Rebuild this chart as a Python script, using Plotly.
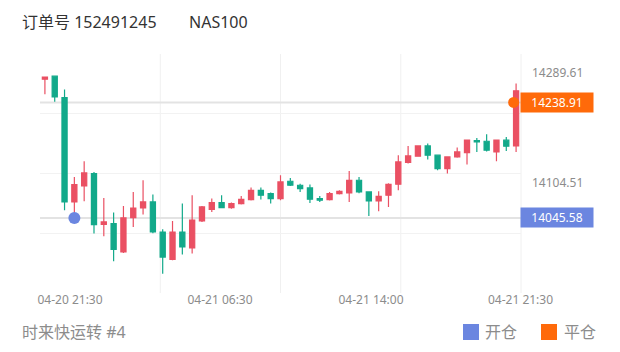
import plotly.graph_objects as go

# ---------------- data ----------------
opens = [14277.9, 14282.9, 14247.2, 14072.4, 14099.2, 14120.0, 14035.0, 14036.2, 13988.6, 14046.2,
         14062.3, 14072.4, 14022.1, 13976.4, 14022.1, 13995.3, 14040.5, 14060.1, 14071.4, 14063.0,
         14069.7, 14076.4, 14091.9, 14086.4, 14078.0, 14107.0, 14100.3, 14095.8, 14078.0, 14076.4,
         14086.4, 14087.4, 14108.7, 14089.1, 14074.0, 14083.6, 14102.0, 14138.4, 14148.9, 14166.2,
         14150.6, 14128.3, 14147.7, 14155.1, 14175.2, 14174.0, 14156.1, 14175.7, 14166.2]
highs = [14282.0, 14283.5, 14260.6, 14114.3, 14140.5, 14122.6, 14079.1, 14054.6, 14065.7, 14089.1,
         14108.7, 14084.8, 14026.6, 14040.5, 14069.7, 14083.6, 14065.6, 14078.0, 14083.6, 14071.3,
         14082.4, 14096.5, 14096.5, 14088.0, 14117.1, 14112.6, 14103.0, 14101.5, 14082.4, 14089.1,
         14091.9, 14124.3, 14114.3, 14089.5, 14090.3, 14103.5, 14150.6, 14166.2, 14167.0, 14170.2,
         14151.5, 14148.5, 14163.5, 14177.0, 14179.6, 14185.8, 14176.5, 14181.2, 14270.7]
lows = [14252.8, 14239.9, 14058.5, 14040.0, 14073.5, 14019.4, 14014.9, 13973.0, 13987.0, 14030.5,
        14051.3, 14020.0, 13952.4, 13975.0, 13984.3, 13986.0, 14039.0, 14055.6, 14062.0, 14061.0,
        14068.0, 14075.0, 14076.4, 14069.7, 14075.2, 14099.0, 14089.1, 14070.7, 14072.4, 14075.0,
        14085.0, 14072.4, 14087.0, 14048.9, 14056.8, 14064.0, 14092.0, 14136.7, 14148.0, 14143.4,
        14125.5, 14119.9, 14146.5, 14135.0, 14156.1, 14157.0, 14140.5, 14157.8, 14156.1]
closes = [14281.2, 14248.3, 14072.4, 14101.5, 14120.9, 14034.6, 14038.9, 13993.1, 14045.6, 14062.3,
          14072.4, 14022.1, 13980.2, 14022.1, 13997.0, 14041.8, 14064.0, 14071.4, 14063.0, 14069.7,
          14076.9, 14091.9, 14083.6, 14078.0, 14105.9, 14100.3, 14094.8, 14076.9, 14075.2, 14086.4,
          14090.3, 14108.7, 14089.1, 14074.0, 14081.9, 14102.0, 14139.4, 14149.4, 14166.2, 14150.6,
          14128.3, 14147.7, 14156.1, 14175.7, 14172.9, 14159.0, 14175.7, 14165.7, 14258.3]
x_idx = list(range(len(opens)))

x_tick_pos = [2.56, 17.84, 33.22, 48.45]
x_tick_labels = ["04-20 21:30", "04-21 06:30", "04-21 14:00", "04-21 21:30"]

y_grid_vals = [14020, 14120, 14220]
y_range = [13920, 14320]
y_side_labels = [14289.61, 14104.51]

open_price = 14045.58
close_price = 14238.91
open_idx = 3
close_idx = 48

title_left = "订单号 152491245"
title_right = "NAS100"
footer_text = "时来快运转 #4"
legend_labels = ["开仓", "平仓"]

# ---------------- style ----------------
RED = "#ea5063"
GREEN = "#12a98a"
BLUE = "#6b86e0"
ORANGE = "#ff6a0a"
FONT = "Noto Sans, Noto Sans CJK SC, sans-serif"

W, H = 620, 352
L, R, T, B = 40, 99, 54, 59
pw = W - L - R
ph = H - T - B


def pxx(x):
    return (x - L) / pw


def pxy(y):
    return (H - B - y) / ph


fig = go.Figure()

# close marker (under candles)
fig.add_trace(go.Scatter(
    x=[close_idx - 0.25], y=[close_price], mode="markers",
    marker=dict(color=ORANGE, size=11), hoverinfo="skip", showlegend=False))

fig.add_trace(go.Candlestick(
    x=x_idx, open=opens, high=highs, low=lows, close=closes,
    increasing=dict(line=dict(color=RED, width=1.2), fillcolor=RED),
    decreasing=dict(line=dict(color=GREEN, width=1.2), fillcolor=GREEN),
    whiskerwidth=0, hoverinfo="skip", showlegend=False))

# open marker (over candles)
fig.add_trace(go.Scatter(
    x=[open_idx], y=[open_price], mode="markers",
    marker=dict(color=BLUE, size=12), hoverinfo="skip", showlegend=False))

shapes = []
# vertical grid lines
for fx in [0.25, 0.5, 0.75, 1.0]:
    shapes.append(dict(type="line", xref="paper", yref="paper", x0=fx, x1=fx, y0=0, y1=1,
                       line=dict(color="#f0f0f0", width=1), layer="below"))
# open / close price lines
for pv in [open_price, close_price]:
    shapes.append(dict(type="line", xref="paper", yref="y", x0=0, x1=1, y0=pv, y1=pv,
                       line=dict(color="#e3e3e3", width=2), layer="below"))
# legend squares
for x0, col in [(463, BLUE), (541, ORANGE)]:
    shapes.append(dict(type="rect", xref="paper", yref="paper",
                       x0=pxx(x0), x1=pxx(x0 + 16), y0=pxy(340), y1=pxy(324),
                       fillcolor=col, line=dict(width=0)))

annotations = []
for v in y_side_labels:
    annotations.append(dict(xref="paper", yref="y", x=pxx(530), y=v, text=f"{v:.2f}",
                            showarrow=False, xanchor="left", yanchor="middle",
                            font=dict(family=FONT, size=12, color="#8c8c8c")))
for v, col in [(close_price, ORANGE), (open_price, BLUE)]:
    annotations.append(dict(xref="paper", yref="y", x=pxx(520), y=v, text=f"{v:.2f}",
                            showarrow=False, xanchor="left", yanchor="middle",
                            width=72, height=19, bgcolor=col, borderpad=0, align="center",
                            font=dict(family=FONT, size=12, color="#ffffff")))
annotations.append(dict(xref="paper", yref="paper", x=pxx(20), y=pxy(22), text=title_left,
                        showarrow=False, xanchor="left", yanchor="middle",
                        font=dict(family=FONT, size=16, color="#333333")))
annotations.append(dict(xref="paper", yref="paper", x=pxx(187), y=pxy(22), text=title_right,
                        showarrow=False, xanchor="left", yanchor="middle",
                        font=dict(family=FONT, size=16, color="#333333")))
annotations.append(dict(xref="paper", yref="paper", x=pxx(20), y=pxy(332), text=footer_text,
                        showarrow=False, xanchor="left", yanchor="middle",
                        font=dict(family=FONT, size=16, color="#8c8c8c")))
for lx, txt in zip([483, 562], legend_labels):
    annotations.append(dict(xref="paper", yref="paper", x=pxx(lx), y=pxy(332), text=txt,
                            showarrow=False, xanchor="left", yanchor="middle",
                            font=dict(family=FONT, size=16, color="#8c8c8c")))

fig.update_layout(
    width=W, height=H,
    margin=dict(l=L, r=R, t=T, b=B),
    paper_bgcolor="white", plot_bgcolor="white",
    showlegend=False,
    boxgap=0.25,
    shapes=shapes,
    annotations=annotations,
    xaxis=dict(range=[-0.5, len(opens) - 0.5], rangeslider=dict(visible=False),
               tickmode="array", tickvals=x_tick_pos, ticktext=x_tick_labels,
               showgrid=False, zeroline=False, showline=False,
               ticks="", ticklabelstandoff=-2,
               tickfont=dict(family=FONT, size=12, color="#8c8c8c")),
    yaxis=dict(range=y_range, tickmode="array", tickvals=y_grid_vals,
               showticklabels=False, showgrid=True, gridcolor="#f2f2f2", gridwidth=1,
               zeroline=False, showline=False),
    hovermode=False,
)

fig.write_html("out.html")
